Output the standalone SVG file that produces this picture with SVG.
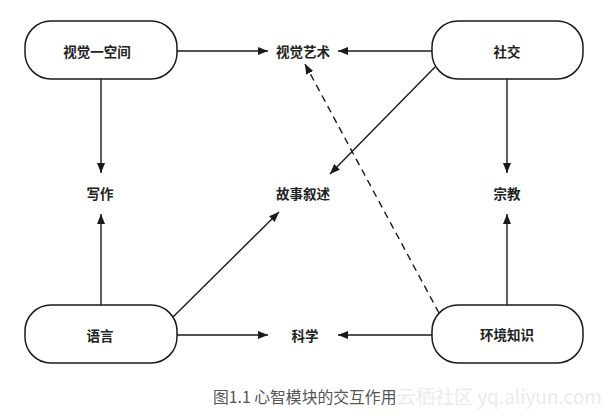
<svg xmlns="http://www.w3.org/2000/svg" width="607" height="420" viewBox="0 0 607 420">
<defs>
<style>
.box{fill:#fff;stroke:#1a1a1a;stroke-width:1.5}
.lbl{font-family:"Noto Sans CJK SC","Noto Sans",sans-serif;font-size:13.5px;font-weight:bold;fill:#222;text-anchor:middle;dominant-baseline:central}
.ln{stroke:#1a1a1a;stroke-width:1.4;fill:none}
.dash{stroke-dasharray:7,5}
.cap{font-family:"Noto Sans CJK SC","Noto Sans",sans-serif;font-size:15.8px;fill:#555}
.wm{font-family:"Noto Sans CJK SC","Noto Sans",sans-serif;font-size:19px;fill:#ebebeb}
</style>
<marker id="ah" viewBox="0 0 10 10" refX="10" refY="5" markerWidth="10" markerHeight="10" markerUnits="userSpaceOnUse" orient="auto">
<path d="M0,1 L10,5 L0,9 Z" fill="#1a1a1a"/>
</marker>
</defs>
<rect width="607" height="420" fill="#fff"/>
<g id="connectors">
<line class="ln" x1="177" y1="51" x2="268" y2="51" marker-end="url(#ah)"/>
<line class="ln" x1="432" y1="51" x2="338" y2="51" marker-end="url(#ah)"/>
<line class="ln dash" x1="439" y1="313" x2="305" y2="64" marker-end="url(#ah)"/>
<line class="ln" x1="435" y1="67" x2="330" y2="174" marker-end="url(#ah)"/>
<line class="ln" x1="173" y1="317" x2="279" y2="212" marker-end="url(#ah)"/>
<line class="ln" x1="101" y1="79" x2="101" y2="173" marker-end="url(#ah)"/>
<line class="ln" x1="101" y1="305" x2="101" y2="214" marker-end="url(#ah)"/>
<line class="ln" x1="507" y1="79" x2="507" y2="173" marker-end="url(#ah)"/>
<line class="ln" x1="507" y1="305" x2="507" y2="214" marker-end="url(#ah)"/>
<line class="ln" x1="177" y1="335" x2="268" y2="335" marker-end="url(#ah)"/>
<line class="ln" x1="432" y1="335" x2="338" y2="335" marker-end="url(#ah)"/>
</g>
<g id="n-visual-spatial"><rect class="box" x="25" y="21" width="152" height="58" rx="26" ry="26"/><text class="lbl" x="97" y="51">视觉一空间</text></g>
<g id="n-social"><rect class="box" x="432" y="21" width="151" height="58" rx="26" ry="26"/><text class="lbl" x="507" y="51">社交</text></g>
<g id="n-language"><rect class="box" x="25" y="305" width="152" height="58" rx="26" ry="26"/><text class="lbl" x="100" y="335">语言</text></g>
<g id="n-env"><rect class="box" x="432" y="305" width="151" height="58" rx="26" ry="26"/><text class="lbl" x="507" y="334">环境知识</text></g>
<g id="n-visual-art"><text class="lbl" x="303" y="51">视觉艺术</text></g>
<g id="n-writing"><text class="lbl" x="100" y="193">写作</text></g>
<g id="n-story"><text class="lbl" x="303" y="193">故事叙述</text></g>
<g id="n-religion"><text class="lbl" x="507" y="193">宗教</text></g>
<g id="n-science"><text class="lbl" x="305" y="335">科学</text></g>
<text class="cap" x="213" y="403">图1.1 心智模块的交互作用</text>
<text class="wm" x="397" y="404">云栖社区 yq.aliyun.com</text>
</svg>
